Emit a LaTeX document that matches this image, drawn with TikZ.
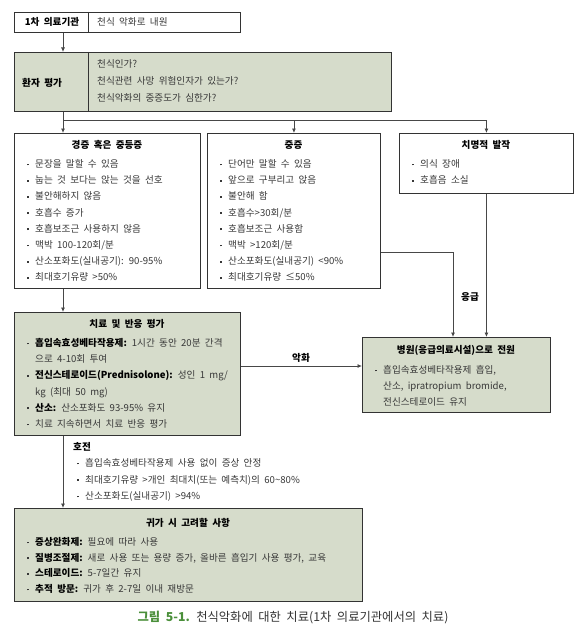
\documentclass[tikz,border=0pt]{standalone}
\usepackage{fontspec}
\setmainfont{Noto Sans CJK KR}[WordSpace=2.0]
\usetikzlibrary{arrows.meta}
\definecolor{boxfill}{HTML}{D6DCCB}
\definecolor{capgreen}{HTML}{4A8F3A}
\newcommand{\bul}{\makebox[8pt][l]{\raisebox{0.22em}{\rule{1.8pt}{1.8pt}}}}
\newcommand{\hang}{\hspace*{8pt}}
\newcommand{\key}[1]{\textbf{\color{black}#1}}

\begin{document}
\begin{tikzpicture}[x=1pt,y=-1pt,
  line/.style={draw=black!72,line width=0.8pt},
  arrow/.style={line,-{Latex[length=4.5pt,width=4pt]}},
  plain/.style={draw=black!80,line width=0.9pt,fill=white,inner sep=0,anchor=north west},
  soft/.style={plain,fill=boxfill},
  label/.style={font=\fontsize{9.6}{16.2}\selectfont,text=black!78,inner sep=0,align=left,anchor=base west},
  title/.style={font=\fontsize{9.6}{16.2}\selectfont\bfseries,text=black,inner sep=0,anchor=base},
]
\useasboundingbox (0,0) rectangle (584,634);

% Boxes
\node[plain,minimum width=226,minimum height=20] (clinic) at (14,12) {};
\node[soft,minimum width=377,minimum height=59] (assess) at (14,52) {};
\node[plain,minimum width=186,minimum height=155] (mild) at (14,133) {};
\node[plain,minimum width=173,minimum height=155] (severe) at (207,133) {};
\node[plain,minimum width=174,minimum height=60] (fatal) at (399,133) {};
\node[soft,minimum width=226,minimum height=123] (treat) at (14,312) {};
\node[soft,minimum width=188,minimum height=75] (hospital) at (362,337) {};
\node[soft,minimum width=348,minimum height=93] (final) at (14,508) {};
\draw[line,draw=black!80] (88,12) -- (88,32);
\draw[line,draw=black!80] (88,52) -- (88,111);

% Connectors
\coordinate (trunk) at (63,0);
\coordinate (split) at (63,120);
\coordinate (emerg) at (453,0);
\coordinate (worse) at (0,366);
\draw[arrow] (trunk |- clinic.south) -- (trunk |- assess.north);
\draw[arrow] (trunk |- assess.south) -- (trunk |- mild.north);
\draw[arrow] (split) -| (fatal.north);
\draw[arrow] (split -| severe.north) -- (severe.north);
\draw[arrow] ([yshift=-41.5pt]severe.east) -| (hospital.north -| emerg);
\draw[arrow] (fatal.south) -- (fatal.south |- hospital.north);
\draw[arrow] (trunk |- mild.south) -- (trunk |- treat.north);
\draw[arrow] (treat.east |- worse) -- (hospital.west |- worse);
\draw[arrow] (trunk |- treat.south) -- (trunk |- final.north);
\node[title,anchor=center] (emlabel) at (470,297) {응급};
\node[title,anchor=center] (worselabel) at (301,358) {악화};

% Assessment (multi-line labels sit on their last baseline)
\node[title] (clinicname) at (52,25.5) {1차 의료기관};
\node[label] (clinictext) at (97,25.5) {천식 악화로 내원};
\node[title,anchor=base west] (assesstitle) at (22,86.5) {환자 평가};
\node[label,font=\fontsize{9.6}{17}\selectfont] (questions) at (97,101.5)
  {천식인가?\\천식관련 사망 위험인자가 있는가?\\천식악화의 중증도가 심한가?};

% Severity
\node[title] (mildtitle) at (107,148.5) {경증 혹은 중등증};
\node[label] (mildlist) at (27,280.9)
  {\bul 문장을 말할 수 있음\\\bul 눕는 것 보다는 앉는 것을 선호\\\bul 불안해하지 않음\\
   \bul 호흡수 증가\\\bul 호흡보조근 사용하지 않음\\\bul 맥박 100-120회/분\\
   \bul 산소포화도(실내공기): 90-95\%\\\bul 최대호기유량 >50\%};
\node[title] (severetitle) at (293.5,148.5) {중증};
\node[label] (severelist) at (220,280.9)
  {\bul 단어만 말할 수 있음\\\bul 앞으로 구부리고 앉음\\\bul 불안해 함\\
   \bul 호흡수>30회/분\\\bul 호흡보조근 사용함\\\bul 맥박 >120회/분\\
   \bul 산소포화도(실내공기) <90\%\\\bul 최대호기유량 ≤50\%};
\node[title] (fataltitle) at (486,148.5) {치명적 발작};
\node[label] (fatallist) at (412,183.7) {\bul 의식 장애\\\bul 호흡음 소실};

% Treatment
\node[title] (treattitle) at (127,327.5) {치료 및 반응 평가};
\node[label] (treatlist) at (27,427.5)
  {\bul\key{흡입속효성베타작용제:} 1시간 동안 20분 간격\\
   \hang 으로 4-10회 투여\\
   \bul\key{전신스테로이드(Prednisolone):} 성인 1 mg/\\
   \hang kg (최대 50 mg)\\
   \bul\key{산소:} 산소포화도 93-95\% 유지\\
   \bul 치료 지속하면서 치료 반응 평가};
\node[title] (hosptitle) at (456,353.5) {병원(응급의료시설)으로 전원};
\node[label] (hosplist) at (375,405.9)
  {\bul 흡입속효성베타작용제 흡입,\\\hang 산소, ipratropium bromide,\\\hang 전신스테로이드 유지};

% Improvement and discharge
\node[title,anchor=base west] (bettertitle) at (73,450.5) {호전};
\node[label,font=\fontsize{9.6}{16.5}\selectfont] (betterlist) at (77,499.5)
  {\bul 흡입속효성베타작용제 사용 없이 증상 안정\\
   \bul 최대호기유량 >개인 최대치(또는 예측치)의 60\textasciitilde 80\%\\
   \bul 산소포화도(실내공기) >94\%};
\node[title] (finaltitle) at (188,526.5) {귀가 시 고려할 사항};
\node[label,font=\fontsize{9.6}{15.7}\selectfont] (finallist) at (27,592.6)
  {\bul\key{증상완화제:} 필요에 따라 사용\\
   \bul\key{질병조절제:} 새로 사용 또는 용량 증가, 올바른 흡입기 사용 평가, 교육\\
   \bul\key{스테로이드:} 5-7일간 유지\\
   \bul\key{추적 방문:} 귀가 후 2-7일 이내 재방문};

\node[font=\fontsize{12.3}{14}\selectfont,text=black!80,inner sep=0] (caption) at (293,618)
  {{\bfseries\color{capgreen}그림 5-1.} 천식악화에 대한 치료(1차 의료기관에서의 치료)};

\end{tikzpicture}
\end{document}
